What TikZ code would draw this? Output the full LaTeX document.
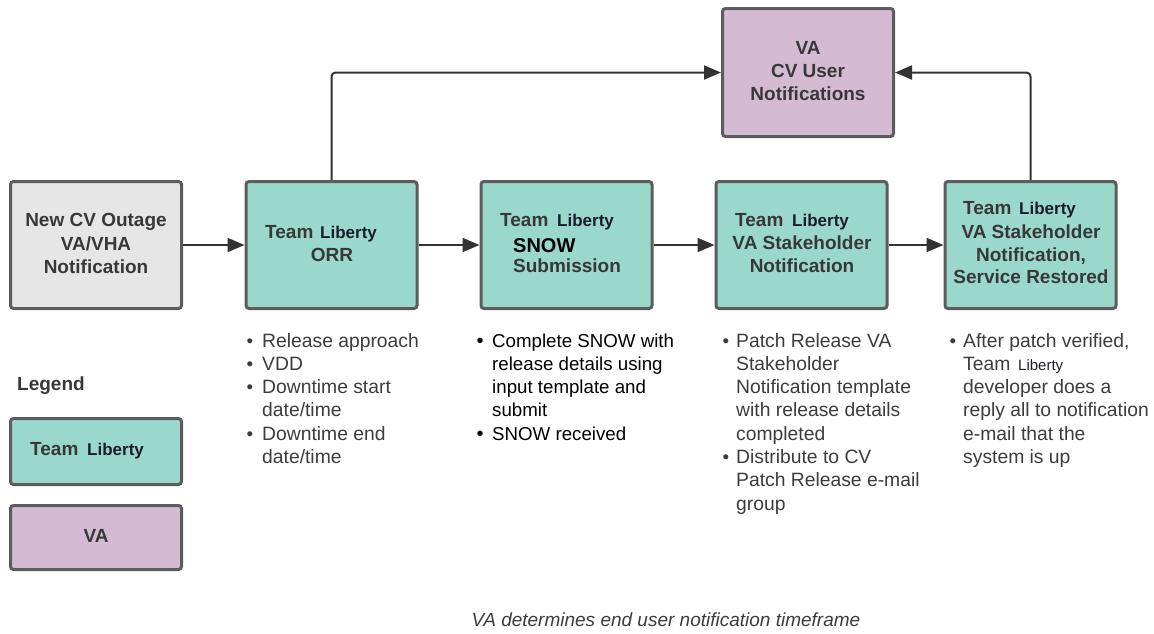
\documentclass[tikz,border=0pt]{standalone}
\usepackage{fontspec}
\setmainfont{Liberation Sans}
\usetikzlibrary{arrows.meta}
\definecolor{mteal}{HTML}{9AD8CC}
\definecolor{mpurple}{HTML}{D5BBD2}
\definecolor{mgray}{HTML}{E6E6E6}
\definecolor{mborder}{HTML}{5C5C5C}
\definecolor{mtext}{HTML}{383838}
\definecolor{mnavy}{HTML}{1C1C2C}
\definecolor{mline}{HTML}{333333}
\definecolor{mbody}{HTML}{3C3C3C}
\begin{document}
\begin{tikzpicture}[x=1pt,y=-1pt,
  box/.style={draw=mborder, line width=3pt, rounded corners=3pt, minimum width=171pt, minimum height=127pt, inner sep=0pt},
  bt/.style={font=\fontsize{19}{22}\selectfont\bfseries, text=mtext, inner sep=0pt},
  btw/.style={bt, anchor=base west},
  btc/.style={bt, anchor=base},
  lib/.style={font=\fontsize{17}{20}\selectfont\bfseries, text=mnavy, inner sep=0pt, anchor=base west},
  body/.style={font=\fontsize{19.3}{22}\selectfont, text=mbody, inner sep=0pt, anchor=base west},
  bodyk/.style={body, font=\fontsize{18.7}{22}\selectfont, text=black},
  bul/.style={font=\fontsize{18.7}{22}\selectfont, inner sep=0pt, anchor=base},
  arr/.style={draw=mline, line width=2pt, -{Triangle[length=17pt,width=14pt]}}
]
\useasboundingbox (0,0) rectangle (1154,633);

% main boxes
\node[box, fill=mgray] (b1) at (96,245) {};
\node[box, fill=mteal] (b2) at (331.5,245) {};
\node[box, fill=mteal] (b3) at (566.5,245) {};
\node[box, fill=mteal] (b4) at (801.5,245) {};
\node[box, fill=mteal] (b5) at (1030.5,245) {};
\node[box, fill=mpurple, minimum height=128pt] (va) at (808,72.5) {};
% legend boxes
\node[box, fill=mteal, minimum height=66pt] (l1) at (96,451.5) {};
\node[box, fill=mpurple, minimum height=64pt] (l2) at (96,537.5) {};

% connectors
\draw[arr] (b1.east) -- (b2.west);
\draw[arr] (b2.east) -- (b3.west);
\draw[arr] (b3.east) -- (b4.west);
\draw[arr] (b4.east) -- (b5.west);
\draw[arr, rounded corners=4pt] (b2.north) |- (va.west);
\draw[arr, rounded corners=4pt] (b5.north) |- (va.east);

% box 1 text
\node[btc] (t1a) at (96,226) {New CV Outage};
\node[btc] (t1b) at (96,250) {VA/VHA};
\node[btc] (t1c) at (96,273) {Notification};
% box 2
\node[btw] (t2a) at (265,238) {Team};
\node[lib] (t2b) at (320,238) {Liberty};
\node[btc] (t2c) at (332,261) {ORR};
% box 3
\node[btw] (t3a) at (500,226) {Team};
\node[lib] (t3b) at (557,226) {Liberty};
\node[btw, text=black, font=\fontsize{20}{22}\selectfont\bfseries] (t3c) at (513,252) {SNOW};
\node[btw] (t3d) at (513,272) {Submission};
% box 4
\node[btw] (t4a) at (735,226) {Team};
\node[lib] (t4b) at (792,226) {Liberty};
\node[btc] (t4c) at (802,249) {VA Stakeholder};
\node[btc] (t4d) at (802,272) {Notification};
% box 5
\node[btw] (t5a) at (963,214) {Team};
\node[lib] (t5b) at (1019,214) {Liberty};
\node[btc] (t5c) at (1031,238) {VA Stakeholder};
\node[btc] (t5d) at (1031,261) {Notification,};
\node[btc] (t5e) at (1031,283) {Service Restored};
% VA box
\node[btc] (tva) at (808,54) {VA};
\node[btc] (tvb) at (808,77) {CV User};
\node[btc] (tvc) at (808,100) {Notifications};

% legend
\node[btw] (lg) at (17,390) {Legend};
\node[btw] (tl1a) at (30,455) {Team};
\node[lib] (tl1b) at (87,455) {Liberty};
\node[btc] (tl2) at (96,542) {VA};

% column 1
\node[bul, text=mbody] (c1b1) at (250,347) {•};
\node[body] (c1a) at (262,347) {Release approach};
\node[bul, text=mbody] (c1b2) at (250,370.3) {•};
\node[body] (c1b) at (262,370.3) {VDD};
\node[bul, text=mbody] (c1b3) at (250,393.6) {•};
\node[body] (c1c) at (262,393.6) {Downtime start};
\node[body] (c1d) at (262,416.9) {date/time};
\node[bul, text=mbody] (c1b4) at (250,440.2) {•};
\node[body] (c1e) at (262,440.2) {Downtime end};
\node[body] (c1f) at (262,463.5) {date/time};

% column 2
\node[bul, text=black, font=\fontsize{20}{22}\selectfont] (c2b1) at (480,347) {•};
\node[bodyk] (c2a) at (492,347) {Complete SNOW with};
\node[bodyk] (c2b) at (492,370.3) {release details using};
\node[bodyk] (c2c) at (492,393.6) {input template and};
\node[bodyk] (c2d) at (492,416.9) {submit};
\node[bul, text=black, font=\fontsize{20}{22}\selectfont] (c2b2) at (480,440.2) {•};
\node[bodyk] (c2e) at (492,440.2) {SNOW received};

% column 3
\node[bul, text=mbody] (c3b1) at (726,347) {•};
\node[body] (c3a) at (736,347) {Patch Release VA};
\node[body] (c3b) at (736,370.3) {Stakeholder};
\node[body] (c3c) at (736,393.6) {Notification template};
\node[body] (c3d) at (736,416.9) {with release details};
\node[body] (c3e) at (736,440.2) {completed};
\node[bul, text=mbody] (c3b2) at (726,463.5) {•};
\node[body] (c3f) at (736,463.5) {Distribute to CV};
\node[body] (c3g) at (736,486.8) {Patch Release e-mail};
\node[body] (c3h) at (736,510.1) {group};

% column 4
\node[bul, text=mbody] (c4b1) at (953,347) {•};
\node[body] (c4a) at (963,347) {After patch verified,};
\node[body] (c4b) at (963,370.3) {Team};
\node[body, font=\fontsize{15}{18}\selectfont, text=mnavy] (c4bl) at (1018,370.3) {Liberty};
\node[body] (c4c) at (963,393.6) {developer does a};
\node[body] (c4d) at (963,416.9) {reply all to notification};
\node[body] (c4e) at (963,440.2) {e-mail that the};
\node[body] (c4f) at (963,463.5) {system is up};

% footer
\node[font=\fontsize{19}{22}\selectfont\itshape, text=mbody, inner sep=0pt, anchor=base] (foot) at (666,626) {VA determines end user notification timeframe};
\end{tikzpicture}
\end{document}
